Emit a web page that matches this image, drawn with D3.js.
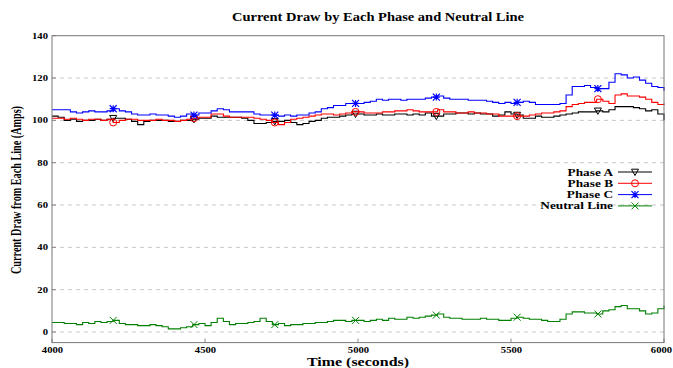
<!DOCTYPE html>
<html>
<head>
<meta charset="utf-8">
<script src="https://cdn.jsdelivr.net/npm/d3@7"></script>
<style>
  html, body { margin: 0; padding: 0; background: #fff; }
  svg { display: block; }
  text { font-family: "Liberation Serif", "Times New Roman", serif; font-weight: bold; fill: #000; }
</style>
</head>
<body>
<svg id="chart" width="673" height="368"></svg>
<script>
// Sampling grid (seconds) for the recorded currents
const tStart = 4000, tEnd = 6000, tStep = 20;
const times = d3.range(tStart, tEnd + 1, tStep);

// Current per line (Amps), one value per 20 s step
const phaseA = [
  102,101.5,100,100.5,99.5,100,100,100.5,100,100.5,
  101,101,100.5,99.5,98,99.5,100,100,100,99.5,
  99.5,100,100,100.5,101,101,102,101.5,101.5,101.5,
  101.5,101,100,98.5,98.5,99,99.5,99.5,100,99,
  98,98.5,99.5,100,101,101.5,101.5,102,102.5,103,
  103,102.5,102.5,103,102.5,102.5,103,103,102.5,103,
  102.5,103.5,102,102,103,103,103.5,103.5,103,103.5,
  103,103,102,102.5,104,103,102.5,101,101,102,
  101.5,101.5,102,102.5,103,103.5,104,104,104,104.5,
  104,105,106.5,106.5,106.5,106,105.5,104.5,105,103,
  100
];
const phaseB = [
  101,101,100.5,101,100.5,100,100.5,100.5,100,100.5,
  99,100,100.5,100.5,100,100,100,100.5,100,100,
  99.5,100,100.5,101,101.5,101.5,103,103,102,101.5,
  101.5,101.5,101.5,101,100.5,100,99,98,99,100.5,
  101,101.5,102,102.5,103,103,102.5,103,103.5,104,
  104,103.5,103.5,103.5,104,104,104.5,104.5,105,104.5,
  104,104,104,105,104,104,103.5,103.5,104,103.5,
  103.5,103,103,102,102,102,102,102,102.5,103,
  103.5,103.5,104,104.5,106.5,107.5,108,108.5,108.5,110,
  109,108,112,112.5,111.5,111.5,111,110,108.5,107.5,
  108
];
const phaseC = [
  105,105,105,104,103.5,104,104.5,104,104,104.5,
  105.5,104.5,104,103,102.5,102.5,103,102.5,102.5,102,
  101.5,102,103,102.5,103.5,103.5,104.5,105.5,105,104,
  104,104,104,103,102.5,102.5,102.5,102,102.5,102,
  102.5,102.5,103.5,104,105.5,106,107,107,108,108,
  108,108.5,109,110,109.5,110,110,109.5,110,110,
  110,110.5,111,111.5,110.5,110,110,110,109.5,109.5,
  109.5,109,108.5,108,108.5,108,108.5,109,108.5,107.5,
  107.5,107.5,107.5,108,112,116,116,116.5,115.5,115,
  115,118,122,121.5,120,120.5,119,117.5,116,115.5,
  114
];
const neutral = [
  4.5,4.5,4,4,3.5,4.5,4,5,4.5,5,
  5.5,4,3.5,3.5,3,3,3.5,3,2.5,1.5,
  1.5,2,2.5,3.5,4,3,4.5,6.5,5,3.5,
  4,4,4.5,5,6.5,5,3.5,4,3,3.5,
  3.5,4,4,4.5,4.5,5,5.5,5.5,5,5.5,
  5.5,5,5.5,6,5.5,6.5,6,6,7,6.5,
  7,7.5,8,8.5,7,6.5,6.5,6,6,6,
  6.5,6,6,5.5,5.5,6.5,7,6.5,6,6,
  5.5,5,5,6,8.5,9.5,9.5,9,9,8.5,
  10,10.5,12,12.5,11,11,10,8.5,9,11,
  12.5
];

// Times at which point symbols are placed along each line
const markerTimes = [4200, 4464, 4728, 4992, 5256, 5520, 5784];

const xTicks = [4000, 4500, 5000, 5500, 6000];
const yTicks = [0, 20, 40, 60, 80, 100, 120, 140];

const seriesNames = ["Phase A", "Phase B", "Phase C", "Neutral Line"];
const seriesValues = [phaseA, phaseB, phaseC, neutral];
const seriesColors = ["#000000", "#ff0000", "#0000ff", "#008000"];
const seriesSymbols = ["triangleDown", "circle", "asterisk", "cross"];

// Glyphs are drawn slightly wide
const stretch = 1.33;

const svg = d3.select("#chart");
const plotLeft = 52, plotRight = 664, plotTop = 35.7, plotBottom = 342.6;

const x = d3.scaleLinear().domain([tStart, tEnd]).range([plotLeft, plotRight]);
const y = d3.scaleLinear().domain([-5, 140]).range([plotBottom, plotTop]);

// Title
svg.append("text")
  .attr("transform", `translate(378,21) scale(${stretch},1)`)
  .attr("text-anchor", "middle")
  .style("font-size", "12px")
  .attr("textLength", 292 / stretch)
  .attr("lengthAdjust", "spacingAndGlyphs")
  .text("Current Draw by Each Phase and Neutral Line");

// Dashed horizontal grid
svg.append("g")
  .selectAll("line")
  .data(yTicks.filter(v => v < 140))
  .join("line")
  .attr("x1", plotLeft).attr("x2", plotRight)
  .attr("y1", d => y(d)).attr("y2", d => y(d))
  .attr("stroke", "#c8c8c8").attr("stroke-width", 1)
  .attr("stroke-dasharray", "4,4");

// Axes
const yAxis = svg.append("g")
  .attr("transform", `translate(${plotLeft},0)`)
  .call(d3.axisLeft(y).tickValues(yTicks).tickSize(0).tickPadding(5));
yAxis.select(".domain").remove();
yAxis.selectAll("text")
  .attr("x", 0)
  .attr("transform", `translate(-4,0) scale(${stretch},1)`)
  .style("font-size", "8px").style("font-family", "Liberation Serif").style("font-weight", "bold");

const xAxis = svg.append("g")
  .attr("transform", `translate(0,${plotBottom})`)
  .call(d3.axisBottom(x).tickValues(xTicks).tickFormat(d3.format("d")).tickSize(0).tickPadding(5));
xAxis.select(".domain").remove();
xAxis.selectAll("text")
  .attr("transform", d => `translate(${d === tEnd ? -3 : 0},0) scale(${stretch},1)`)
  .style("font-size", "8px").style("font-family", "Liberation Serif").style("font-weight", "bold");

// Small inward tick marks
svg.append("g").selectAll("line").data(yTicks).join("line")
  .attr("x1", plotLeft).attr("x2", plotLeft + 4)
  .attr("y1", d => y(d)).attr("y2", d => y(d))
  .attr("stroke", "#888");
svg.append("g").selectAll("line").data(xTicks).join("line")
  .attr("x1", d => x(d)).attr("x2", d => x(d))
  .attr("y1", plotBottom).attr("y2", plotBottom - 4)
  .attr("stroke", "#888");

// Axis titles
svg.append("text")
  .attr("transform", `translate(21,190) rotate(-90) scale(1,${stretch})`)
  .attr("text-anchor", "middle")
  .style("font-size", "10.5px")
  .attr("textLength", 168)
  .attr("lengthAdjust", "spacingAndGlyphs")
  .text("Current Draw from Each Line (Amps)");
svg.append("text")
  .attr("transform", `translate(358,366) scale(${stretch},1)`)
  .attr("text-anchor", "middle")
  .style("font-size", "12px")
  .text("Time (seconds)");

// Point symbols
function drawSymbol(g, kind, cx, cy, color) {
  const s = 3.5;
  if (kind === "circle") {
    g.append("circle").attr("cx", cx).attr("cy", cy).attr("r", s)
      .attr("fill", "none").attr("stroke", color).attr("stroke-width", 1);
  } else if (kind === "triangleDown") {
    g.append("path")
      .attr("d", `M${cx - s},${cy - s * 0.8}L${cx + s},${cy - s * 0.8}L${cx},${cy + s}Z`)
      .attr("fill", "none").attr("stroke", color).attr("stroke-width", 1);
  } else if (kind === "cross") {
    g.append("path")
      .attr("d", `M${cx - s},${cy - s}L${cx + s},${cy + s}M${cx - s},${cy + s}L${cx + s},${cy - s}`)
      .attr("stroke", color).attr("stroke-width", 1);
  } else if (kind === "asterisk") {
    g.append("path")
      .attr("d", `M${cx - s},${cy - s}L${cx + s},${cy + s}M${cx - s},${cy + s}L${cx + s},${cy - s}` +
                 `M${cx - s},${cy}L${cx + s},${cy}M${cx},${cy - s}L${cx},${cy + s}`)
      .attr("stroke", color).attr("stroke-width", 1.2);
  }
}

// Series lines (sample-and-hold steps)
const line = d3.line()
  .x((d, i) => x(times[i]))
  .y(d => y(d))
  .curve(d3.curveStepAfter);

const plot = svg.append("g");
seriesValues.forEach((vals, k) => {
  plot.append("path")
    .datum(vals)
    .attr("d", line)
    .attr("fill", "none")
    .attr("stroke", seriesColors[k])
    .attr("stroke-width", 1.1);
  const mg = plot.append("g");
  markerTimes.forEach(t => {
    const idx = Math.floor((t - tStart) / tStep);
    drawSymbol(mg, seriesSymbols[k], x(t), y(vals[idx]), seriesColors[k]);
  });
});

// Frame
svg.append("rect")
  .attr("x", plotLeft).attr("y", plotTop)
  .attr("width", plotRight - plotLeft).attr("height", plotBottom - plotTop)
  .attr("fill", "none").attr("stroke", "#777").attr("stroke-width", 1);

// Legend
const legend = svg.append("g");
const legendTextX = 613, legendLineX1 = 618, legendLineX2 = 652;
const legendY0 = 172, legendDy = 11.3;
seriesNames.forEach((name, k) => {
  const ly = legendY0 + k * legendDy;
  legend.append("text")
    .attr("transform", `translate(${legendTextX},${ly + 3.5}) scale(${stretch},1)`)
    .attr("text-anchor", "end")
    .style("font-size", "10px")
    .text(name);
  legend.append("line")
    .attr("x1", legendLineX1).attr("x2", legendLineX2)
    .attr("y1", ly).attr("y2", ly)
    .attr("stroke", seriesColors[k]).attr("stroke-width", 1);
  drawSymbol(legend, seriesSymbols[k], (legendLineX1 + legendLineX2) / 2, ly, seriesColors[k]);
});
</script>
</body>
</html>
